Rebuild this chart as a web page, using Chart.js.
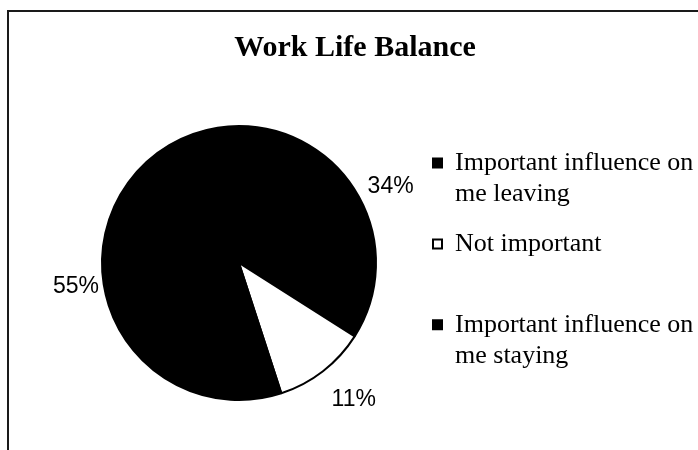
<!DOCTYPE html>
<html lang="en">
<head>
    <meta charset="UTF-8">
    <title>Work Life Balance</title>
    <script src="https://cdn.jsdelivr.net/npm/chart.js"></script>
    <style>
        body {
            margin: 0;
            background-color: #fff;
        }
        .frame {
            position: absolute;
            left: 7px;
            top: 10px;
            width: 691px;
            height: 440px;
            border-top: 2px solid #1a1a1a;
            border-left: 2px solid #1a1a1a;
        }
        canvas {
            position: absolute;
            left: 0;
            top: 0;
        }
    </style>
</head>
<body>
    <div class="frame"></div>
    <canvas id="chartCanvas" width="698" height="450"></canvas>
    <script>
        // data
        const chartTitle = 'Work Life Balance';
        const categories = [
            ['Important influence on', 'me leaving'],
            ['Not important', ''],
            ['Important influence on', 'me staying']
        ];
        const percentages = [34, 11, 55];
        const sliceColors = ['#000000', '#ffffff', '#000000'];

        // gap between pie edge and each percentage label
        const labelGaps = [13, 28, 5];

        const percentLabels = {
            id: 'percentLabels',
            afterLayout(chart) {
                // title is centred on the framed area, not on the plot area
                const t = chart.titleBlock;
                t.left = 12;
                t.width = t.right - t.left;
            },
            afterDatasetsDraw(chart) {
                const ctx = chart.ctx;
                const arcs = chart.getDatasetMeta(0).data;
                ctx.save();
                ctx.font = '23px "Liberation Sans", Arial, sans-serif';
                ctx.fillStyle = '#000';
                ctx.textAlign = 'center';
                ctx.textBaseline = 'middle';
                arcs.forEach((arc, i) => {
                    const p = arc.getProps(['x', 'y', 'startAngle', 'endAngle', 'outerRadius'], true);
                    const mid = (p.startAngle + p.endAngle) / 2;
                    const ux = Math.cos(mid);
                    const uy = Math.sin(mid);
                    const text = percentages[i] + '%';
                    const w = ctx.measureText(text).width;
                    const h = 17;
                    const dist = p.outerRadius + labelGaps[i];
                    const lx = p.x + dist * ux + (w / 2) * ux;
                    const ly = p.y + dist * uy + (h / 2) * uy;
                    ctx.fillText(text, lx, ly);
                });
                ctx.restore();
            }
        };

        const ctx = document.getElementById('chartCanvas').getContext('2d');
        const chart = new Chart(ctx, {
            type: 'pie',
            data: {
                labels: categories,
                datasets: [{
                    data: percentages,
                    backgroundColor: sliceColors,
                    borderColor: '#000000',
                    borderWidth: 2,
                    radius: 137
                }]
            },
            options: {
                responsive: false,
                animation: false,
                layout: {
                    padding: { left: 64, right: 0, top: 0, bottom: 55 }
                },
                plugins: {
                    title: {
                        display: true,
                        text: chartTitle,
                        color: '#000',
                        font: { family: '"Liberation Serif", "Times New Roman", serif', size: 30, weight: 'bold', lineHeight: 1.2 },
                        padding: { top: 30, bottom: 65 }
                    },
                    legend: {
                        position: 'right',
                        align: 'start',
                        fullSize: false,
                        maxWidth: 284,
                        labels: {
                            color: '#000',
                            boxWidth: 9,
                            boxHeight: 9,
                            padding: 19,
                            font: { family: '"Liberation Serif", "Times New Roman", serif', size: 26, lineHeight: 1.19 }
                        }
                    },
                    tooltip: { enabled: false }
                }
            },
            plugins: [percentLabels]
        });
    </script>
</body>
</html>
